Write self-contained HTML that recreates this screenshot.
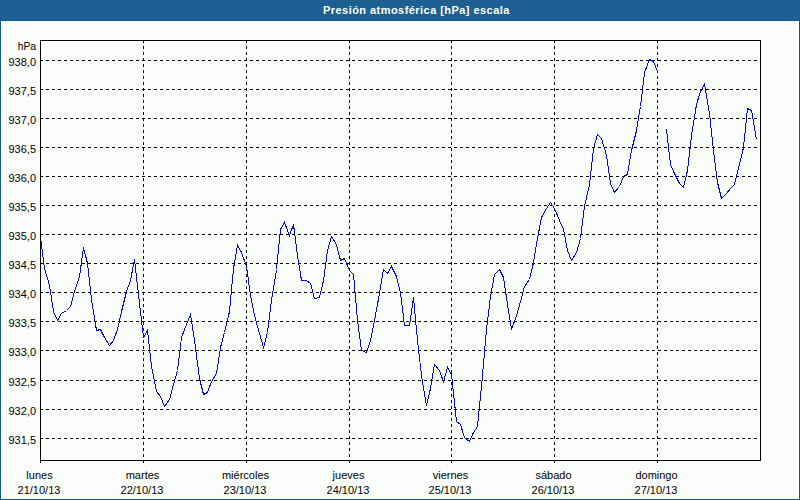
<!DOCTYPE html>
<html><head><meta charset="utf-8"><style>
html,body{margin:0;padding:0;width:800px;height:500px;overflow:hidden;background:#fafdfa;}
#w{position:absolute;left:0;top:0;width:798px;height:478px;border:1px solid #125894;border-top:none;top:21px;background:#fafdfa;}
#t{position:absolute;left:0;top:0;width:800px;height:20px;background:#1e5f92;border-bottom:1px solid #125894;}
#tt{position:absolute;left:323px;top:4px;height:16px;line-height:16px;letter-spacing:0.45px;font:bold 11px "Liberation Sans",sans-serif;color:#fff;white-space:nowrap;}
svg{position:absolute;left:0;top:0;}
text{font-family:"Liberation Sans",sans-serif;font-size:11px;fill:#000;}
.g{stroke:#000;stroke-width:1;stroke-dasharray:3 3;}
.d{fill:none;stroke:#00f;stroke-width:1;shape-rendering:crispEdges;}
line,path{shape-rendering:crispEdges;}
</style></head><body>
<div id="t"></div><div id="tt">Presión atmosférica [hPa] escala</div>
<div id="w"></div>
<svg width="800" height="500" viewBox="0 0 800 500">
<line x1="40" y1="60.5" x2="760" y2="60.5" class="g"/>
<line x1="40" y1="89.5" x2="760" y2="89.5" class="g"/>
<line x1="40" y1="118.5" x2="760" y2="118.5" class="g"/>
<line x1="40" y1="147.5" x2="760" y2="147.5" class="g"/>
<line x1="40" y1="176.5" x2="760" y2="176.5" class="g"/>
<line x1="40" y1="205.5" x2="760" y2="205.5" class="g"/>
<line x1="40" y1="234.5" x2="760" y2="234.5" class="g"/>
<line x1="40" y1="263.5" x2="760" y2="263.5" class="g"/>
<line x1="40" y1="292.5" x2="760" y2="292.5" class="g"/>
<line x1="40" y1="321.5" x2="760" y2="321.5" class="g"/>
<line x1="40" y1="350.5" x2="760" y2="350.5" class="g"/>
<line x1="40" y1="380.5" x2="760" y2="380.5" class="g"/>
<line x1="40" y1="409.5" x2="760" y2="409.5" class="g"/>
<line x1="40" y1="438.5" x2="760" y2="438.5" class="g"/>
<line x1="143.5" y1="40" x2="143.5" y2="460" class="g"/>
<line x1="246.5" y1="40" x2="246.5" y2="460" class="g"/>
<line x1="349.5" y1="40" x2="349.5" y2="460" class="g"/>
<line x1="451.5" y1="40" x2="451.5" y2="460" class="g"/>
<line x1="554.5" y1="40" x2="554.5" y2="460" class="g"/>
<line x1="657.5" y1="40" x2="657.5" y2="460" class="g"/>
<line x1="40.5" y1="460" x2="40.5" y2="463" stroke="#000"/>
<line x1="143.5" y1="460" x2="143.5" y2="463" stroke="#000"/>
<line x1="246.5" y1="460" x2="246.5" y2="463" stroke="#000"/>
<line x1="349.5" y1="460" x2="349.5" y2="463" stroke="#000"/>
<line x1="451.5" y1="460" x2="451.5" y2="463" stroke="#000"/>
<line x1="554.5" y1="460" x2="554.5" y2="463" stroke="#000"/>
<line x1="657.5" y1="460" x2="657.5" y2="463" stroke="#000"/>
<polyline points="40.5,236.5 44.5,268.5 49.5,285.5 53.5,311.5 57.5,320.5 61.5,313.5 66.5,310.5 70.5,306.5 74.5,291.5 79.5,276.5 83.5,247.5 87.5,263.5 91.5,299.5 96.5,330.5 100.5,329.5 104.5,337.5 109.5,345.5 113.5,340.5 117.5,329.5 121.5,311.5 126.5,291.5 130.5,280.5 134.5,259.5 139.5,303.5 143.5,337.5 147.5,330.5 151.5,366.5 156.5,391.5 160.5,396.5 164.5,406.5 169.5,399.5 173.5,384.5 177.5,370.5 181.5,337.5 186.5,324.5 190.5,314.5 194.5,340.5 199.5,378.5 203.5,394.5 207.5,392.5 211.5,381.5 216.5,373.5 220.5,347.5 224.5,332.5 229.5,311.5 233.5,268.5 237.5,245.5 241.5,252.5 246.5,266.5 250.5,295.5 254.5,315.5 259.5,333.5 263.5,347.5 267.5,332.5 271.5,300.5 276.5,269.5 280.5,229.5 284.5,222.5 289.5,235.5 293.5,224.5 297.5,255.5 301.5,280.5 306.5,280.5 310.5,283.5 314.5,298.5 319.5,297.5 323.5,280.5 327.5,250.5 331.5,236.5 336.5,244.5 340.5,260.5 344.5,258.5 349.5,270.5 353.5,274.5 357.5,320.5 361.5,350.5 366.5,352.5 370.5,340.5 374.5,320.5 379.5,293.5 383.5,269.5 387.5,273.5 391.5,266.5 396.5,276.5 400.5,292.5 404.5,325.5 409.5,325.5 413.5,297.5 417.5,340.5 421.5,375.5 426.5,405.5 430.5,388.5 434.5,364.5 439.5,370.5 443.5,381.5 447.5,367.5 451.5,374.5 456.5,421.5 460.5,424.5 464.5,437.5 469.5,441.5 473.5,432.5 477.5,426.5 481.5,386.5 486.5,329.5 490.5,296.5 494.5,274.5 499.5,269.5 503.5,277.5 507.5,304.5 511.5,329.5 516.5,315.5 520.5,301.5 524.5,286.5 529.5,279.5 533.5,262.5 537.5,238.5 541.5,217.5 546.5,208.5 550.5,202.5 554.5,208.5 559.5,220.5 563.5,229.5 567.5,250.5 571.5,260.5 576.5,252.5 580.5,238.5 584.5,206.5 589.5,184.5 593.5,148.5 597.5,134.5 601.5,138.5 606.5,155.5 610.5,183.5 614.5,192.5 619.5,186.5 623.5,176.5 627.5,174.5 631.5,150.5 636.5,130.5 640.5,106.5 644.5,72.5 649.5,59.5 653.5,61.5 657.5,71.5" class="d"/>
<polyline points="666.5,129.5 670.5,164.5 674.5,173.5 679.5,183.5 683.5,187.5 687.5,170.5 691.5,135.5 696.5,104.5 700.5,91.5 704.5,84.5 709.5,113.5 713.5,150.5 717.5,182.5 721.5,198.5 726.5,193.5 730.5,188.5 734.5,184.5 739.5,164.5 743.5,147.5 747.5,108.5 751.5,110.5 756.5,139.5" class="d"/>
<path d="M40.5 40.5H760.5V460.5H40.5Z" fill="none" stroke="#000" stroke-width="1"/>
<text x="36" y="50" text-anchor="end" textLength="18.3" lengthAdjust="spacingAndGlyphs">hPa</text>
<text x="36" y="66" text-anchor="end">938,0</text>
<text x="36" y="95" text-anchor="end">937,5</text>
<text x="36" y="124" text-anchor="end">937,0</text>
<text x="36" y="153" text-anchor="end">936,5</text>
<text x="36" y="182" text-anchor="end">936,0</text>
<text x="36" y="211" text-anchor="end">935,5</text>
<text x="36" y="240" text-anchor="end">935,0</text>
<text x="36" y="269" text-anchor="end">934,5</text>
<text x="36" y="298" text-anchor="end">934,0</text>
<text x="36" y="327" text-anchor="end">933,5</text>
<text x="36" y="356" text-anchor="end">933,0</text>
<text x="36" y="386" text-anchor="end">932,5</text>
<text x="36" y="415" text-anchor="end">932,0</text>
<text x="36" y="444" text-anchor="end">931,5</text>
<text x="39.5" y="479" text-anchor="middle">lunes</text>
<text x="39" y="494" text-anchor="middle">21/10/13</text>
<text x="142.5" y="479" text-anchor="middle">martes</text>
<text x="142" y="494" text-anchor="middle">22/10/13</text>
<text x="245.5" y="479" text-anchor="middle">miércoles</text>
<text x="245" y="494" text-anchor="middle">23/10/13</text>
<text x="348.5" y="479" text-anchor="middle">jueves</text>
<text x="348" y="494" text-anchor="middle">24/10/13</text>
<text x="450.5" y="479" text-anchor="middle">viernes</text>
<text x="450" y="494" text-anchor="middle">25/10/13</text>
<text x="553.5" y="479" text-anchor="middle">sábado</text>
<text x="553" y="494" text-anchor="middle">26/10/13</text>
<text x="656.5" y="479" text-anchor="middle">domingo</text>
<text x="656" y="494" text-anchor="middle">27/10/13</text>
</svg>
</body></html>
